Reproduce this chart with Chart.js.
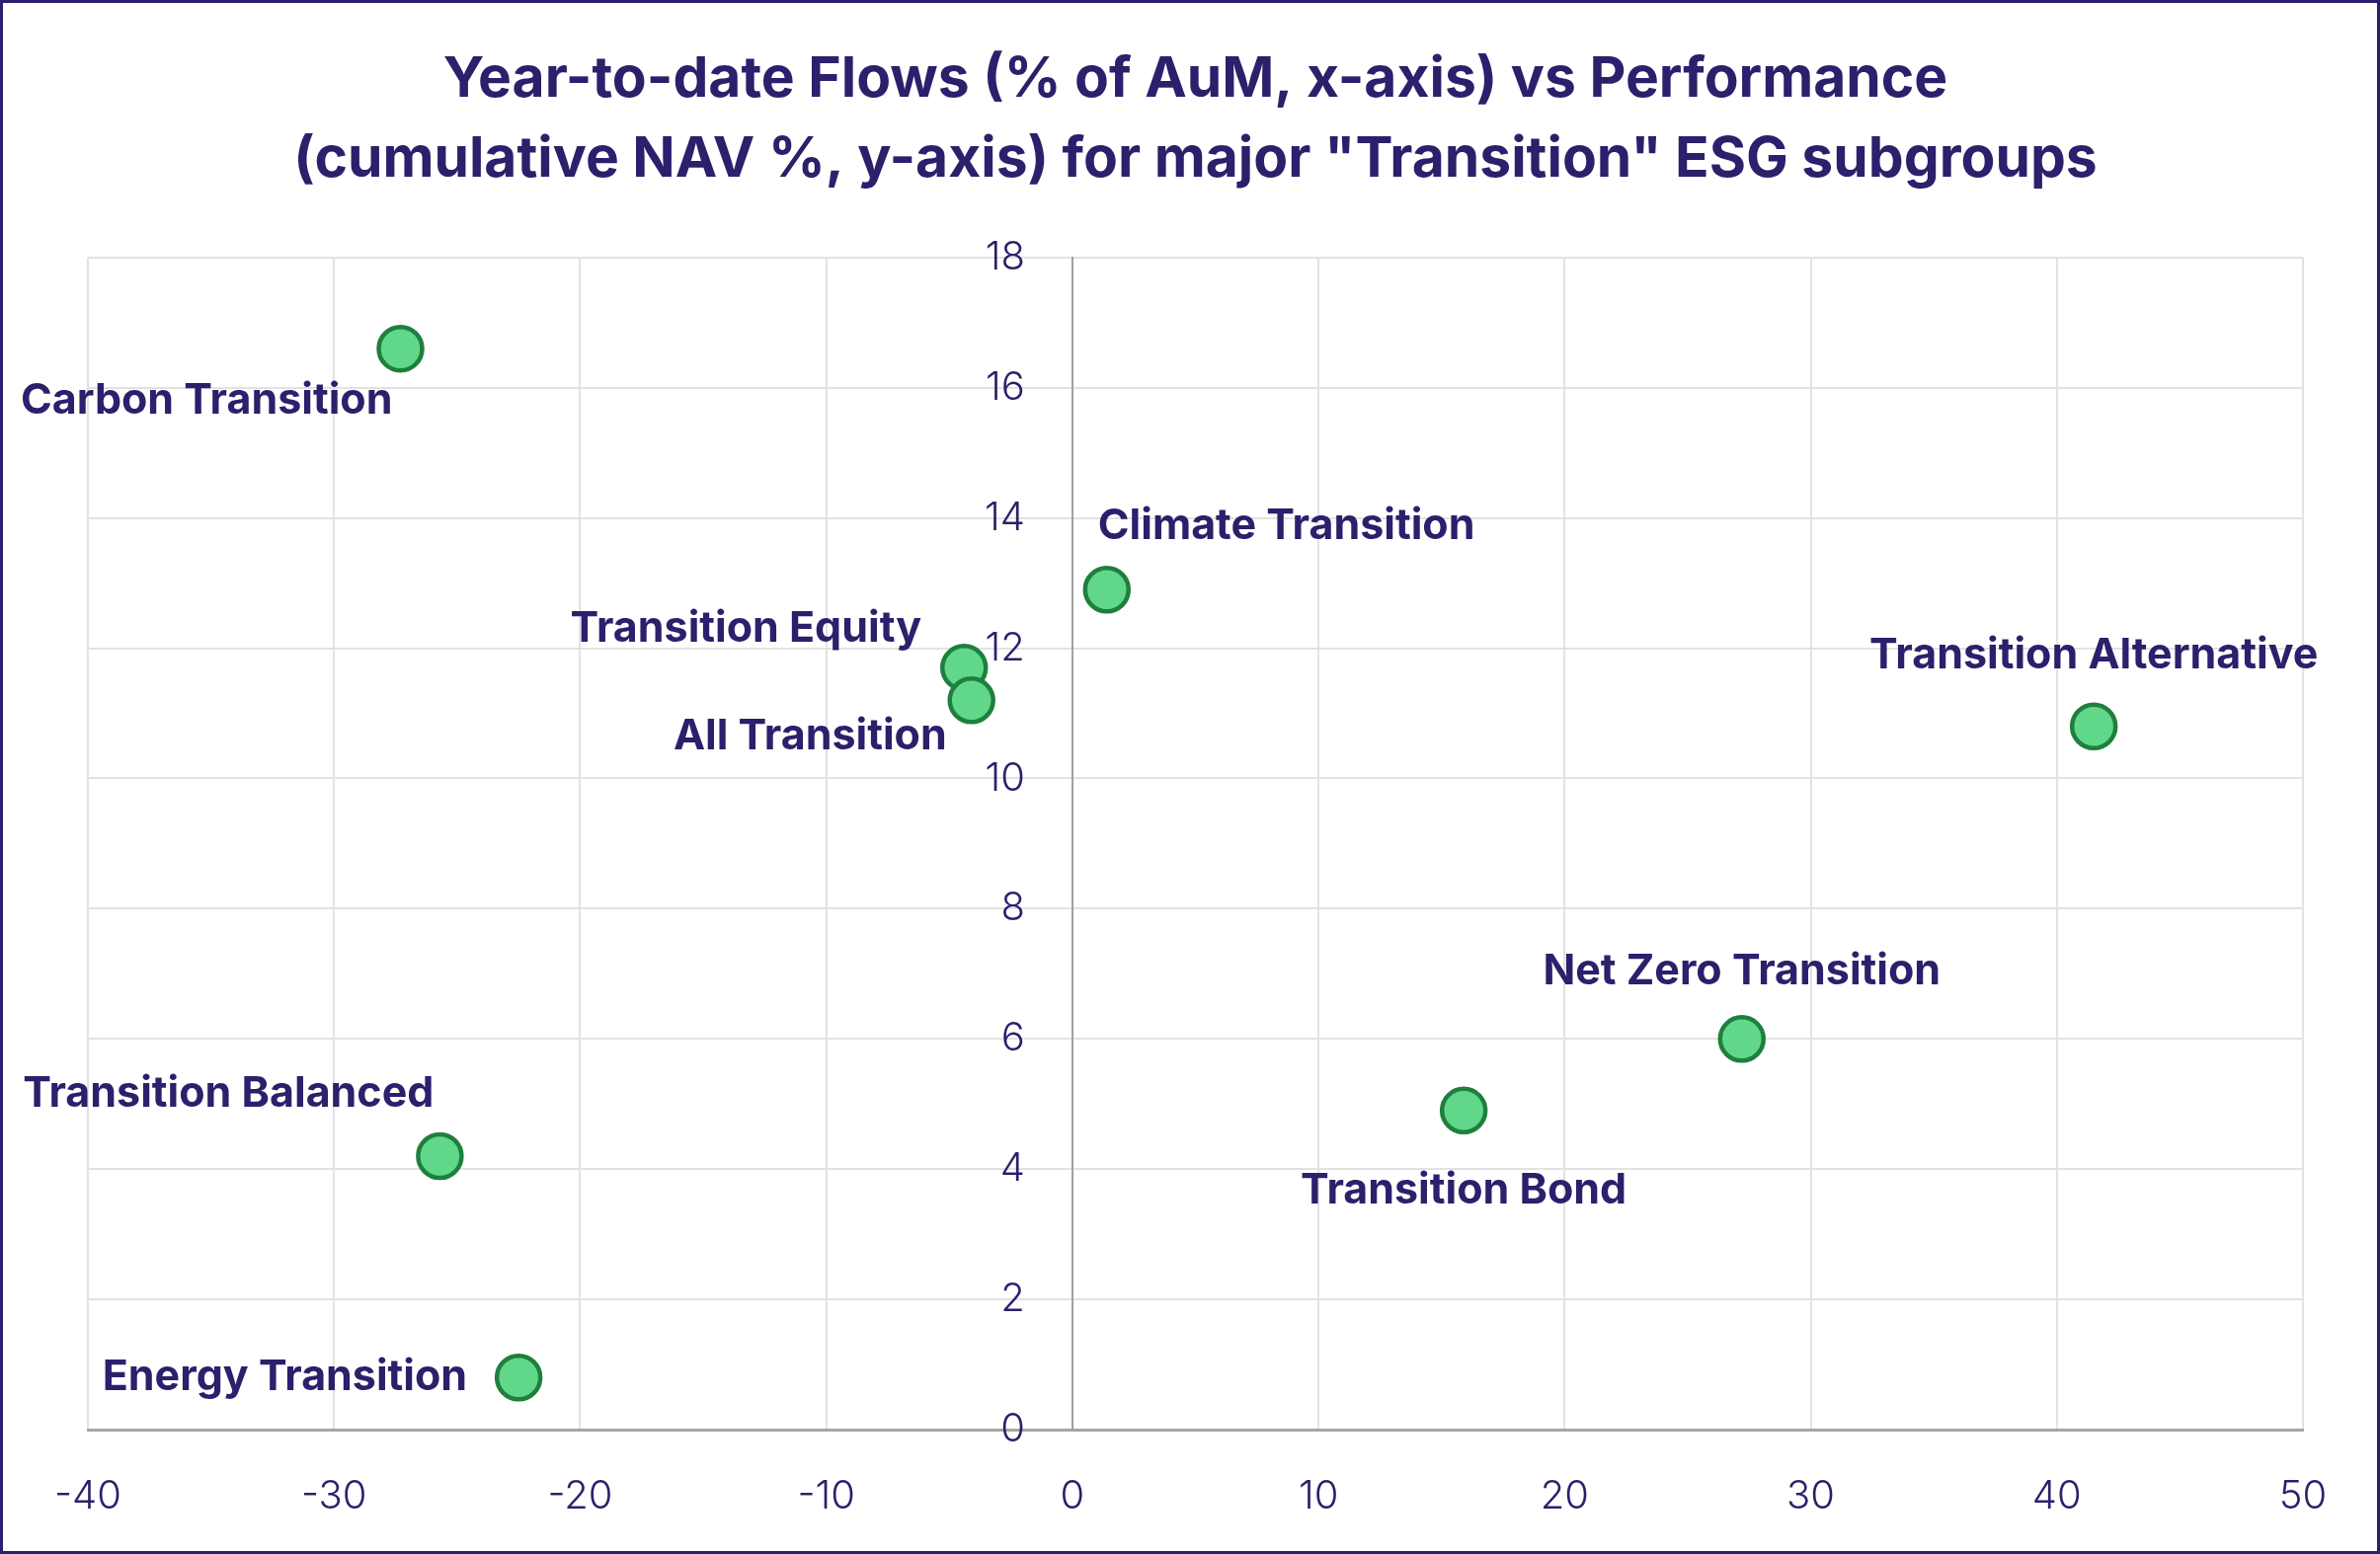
<!DOCTYPE html>
<html>
<head>
<meta charset="utf-8">
<script src="https://cdn.jsdelivr.net/npm/chart.js@4.4.1/dist/chart.umd.min.js"></script>
<style>
  html, body { margin: 0; padding: 0; background: #fff; }
  #wrap { width: 2410px; height: 1574px; box-sizing: border-box; border: 3px solid #2c1f6b; }
  canvas { display: block; }
</style>
</head>
<body>
<div id="wrap"><canvas id="myChart" width="2404" height="1568"></canvas></div>
<script>
// subgroups, flows (x) and performance (y)
var groups = ["Carbon Transition", "Climate Transition", "Transition Equity", "All Transition",
  "Transition Alternative", "Net Zero Transition", "Transition Bond", "Transition Balanced", "Energy Transition"]
var flows = [-27.3, 1.4, -4.4, -4.1, 41.5, 27.2, 15.9, -25.7, -22.5]
var perf = [16.6, 12.9, 11.7, 11.2, 10.8, 6.0, 4.9, 4.2, 0.8]
var xTicks = [-40, -30, -20, -10, 0, 10, 20, 30, 40, 50]
var yTicks = [0, 2, 4, 6, 8, 10, 12, 14, 16, 18]

const navy = "#2c1f6b"
const FONT = "Inter, 'Noto Sans', sans-serif"

// where each label sits next to its point (pixels)
const labelPlace = [
  {dx: -8, dy: 53, align: "right"},
  {dx: -9, dy: -64, align: "left"},
  {dx: -43, dy: -39, align: "right"},
  {dx: -25, dy: 37, align: "right"},
  {dx: 0, dy: -72, align: "center"},
  {dx: 0, dy: -68, align: "center"},
  {dx: 0, dy: 81, align: "center"},
  {dx: -6, dy: -63, align: "right"},
  {dx: -52, dy: 0, align: "right"}
]

const pointLabels = {
  id: "pointLabels",
  afterDraw(chart) {
    const c = chart.ctx
    const meta = chart.getDatasetMeta(0)
    c.save()
    // y tick labels, left of the centred axis
    const ys = chart.scales.y, xs = chart.scales.x
    const x0 = xs.getPixelForValue(0)
    c.font = "300 40px " + FONT
    c.fillStyle = navy
    c.textAlign = "right"
    c.textBaseline = "middle"
    yTicks.forEach(v => c.fillText(String(v), x0 - 48, ys.getPixelForValue(v)))
    // point labels
    c.font = "bold 43px " + FONT
    meta.data.forEach((pt, i) => {
      const p = labelPlace[i]
      c.textAlign = p.align
      c.fillText(groups[i], pt.x + p.dx, pt.y + p.dy)
    })
    c.restore()
  }
}

const ctx = document.getElementById('myChart')
const chart1 = new Chart(ctx, {
  type: "scatter",
  data: {
    datasets: [{
      data: flows.map((f, i) => ({x: f, y: perf[i]})),
      backgroundColor: "#61d889",
      borderColor: "#1f7f3f",
      borderWidth: 4.5,
      pointRadius: 22,
      pointHoverRadius: 22
    }]
  },
  plugins: [pointLabels],
  options: {
    responsive: false,
    devicePixelRatio: 1,
    animation: false,
    layout: {padding: {left: 86, right: 75, top: 0, bottom: -13}},
    plugins: {
      legend: {display: false},
      tooltip: {enabled: false},
      title: {
        display: true,
        text: ["Year-to-date Flows (% of AuM, x-axis) vs Performance",
               "(cumulative NAV %, y-axis) for major \"Transition\" ESG subgroups"],
        color: navy,
        font: {family: FONT, size: 57, weight: "bold", lineHeight: 1.42},
        padding: {top: 37, bottom: 59}
      }
    },
    scales: {
      x: {
        type: "linear",
        min: xTicks[0],
        max: xTicks[xTicks.length - 1],
        afterBuildTicks: (s) => { s.ticks = xTicks.map(v => ({value: v})) },
        grid: {color: "#e2e2e2", lineWidth: 2, drawTicks: false},
        border: {color: "#a6a6a6", width: 3},
        ticks: {color: navy, padding: 44, font: {family: FONT, size: 40, weight: 300}}
      },
      y: {
        type: "linear",
        position: {x: 0},
        min: yTicks[0],
        max: yTicks[yTicks.length - 1],
        afterBuildTicks: (s) => { s.ticks = yTicks.map(v => ({value: v})) },
        grid: {color: "#e2e2e2", lineWidth: 2, drawTicks: false},
        border: {color: "#a0a0a0", width: 2},
        ticks: {display: false}
      }
    }
  }
});
</script>
</body>
</html>
